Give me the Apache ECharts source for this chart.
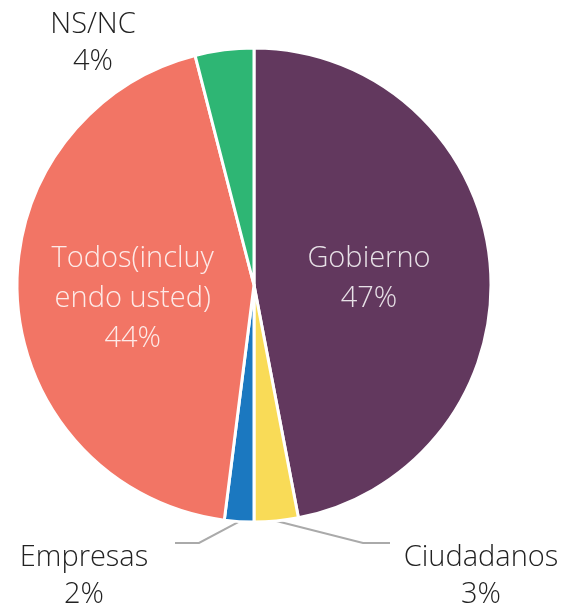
<!DOCTYPE html>
<html>
<head>
<meta charset="utf-8">
<script src="https://cdn.jsdelivr.net/npm/echarts@6/dist/echarts.min.js"></script>
<style>
  html, body { margin: 0; padding: 0; background: #fff; }
  #chart { width: 566px; height: 609px; }
</style>
</head>
<body>
<div id="chart"></div>
<script>
// datos
const categories = ['Gobierno', 'Ciudadanos', 'Empresas', 'Todos(incluy\nendo usted)', 'NS/NC'];
const values = [47, 3, 2, 44, 4];
const colors = ['#62385e', '#f9db57', '#1b78c0', '#f27565', '#2eb674'];

const insideNames = ['Gobierno', 'Todos(incluy\nendo usted)'];

// posiciones de las etiquetas externas
const outsideLabels = {
  'NS/NC': { x: 93, y: 43, line: null },
  'Empresas': { x: 84, y: 576, line: [[199, 543], [175, 543]] },
  'Ciudadanos': { x: 481, y: 576, line: [[363, 543], [390, 543]] }
};
// pequeños ajustes de las etiquetas internas
const insideShift = {
  'Gobierno': [-6, 5],
  'Todos(incluy\nendo usted)': [0, 6]
};

const chart = echarts.init(document.getElementById('chart'));

const data = categories.map((name, i) => {
  const inside = insideNames.includes(name);
  return {
    name: name,
    value: values[i],
    itemStyle: { color: colors[i] },
    label: inside ? {
      position: 'inside',
      color: 'rgba(255,255,255,0.85)',
      fontSize: 29,
      lineHeight: 40
    } : {
      position: 'outside',
      color: '#222',
      fontSize: 29,
      lineHeight: 37
    },
    labelLine: { show: !inside && name !== 'NS/NC' }
  };
});

chart.setOption({
  animation: false,
  series: [{
    type: 'pie',
    center: [254, 285],
    radius: 237,
    startAngle: 90,
    clockwise: true,
    avoidLabelOverlap: false,
    data: data,
    itemStyle: { borderColor: '#fff', borderWidth: 3 },
    label: {
      fontFamily: 'Open Sans',
      fontWeight: 300,
      align: 'center',
      formatter: p => p.name + '\n' + p.value + '%'
    },
    labelLine: {
      lineStyle: { color: '#aaa', width: 2 },
      length: 10,
      length2: 10
    },
    labelLayout: function (params) {
      const name = categories[params.dataIndex];
      const s = insideShift[name];
      if (s) return { dx: s[0], dy: s[1] };
      const o = outsideLabels[name];
      if (!o) return {};
      const res = { x: o.x, y: o.y, align: 'center', verticalAlign: 'middle' };
      if (o.line && params.labelLinePoints) {
        res.labelLinePoints = [params.labelLinePoints[0], o.line[0], o.line[1]];
      }
      return res;
    }
  }]
});
</script>
</body>
</html>
